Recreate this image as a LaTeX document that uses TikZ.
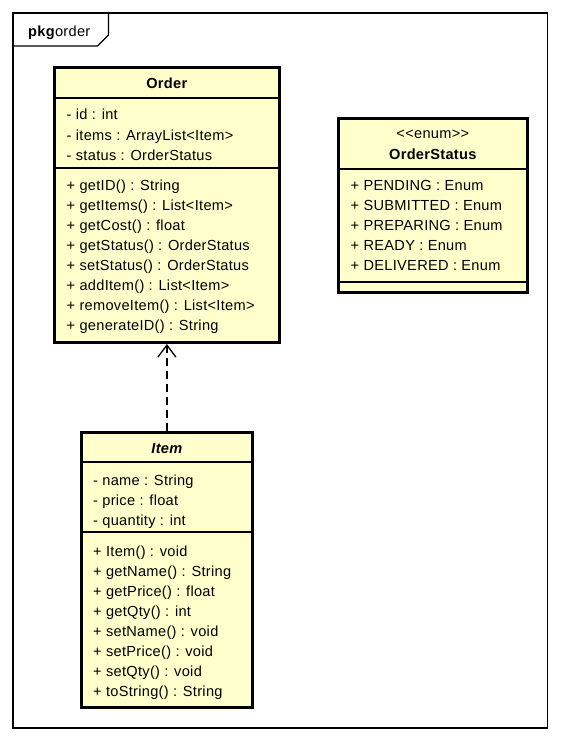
\documentclass[tikz,border=0pt]{standalone}
\usepackage{fontspec}
\setmainfont[LetterSpace=2]{Liberation Sans}
\usetikzlibrary{arrows.meta}
\definecolor{classfill}{RGB}{255,255,204}
\begin{document}
\begin{tikzpicture}[x=1pt, y=-1pt, font=\fontsize{14.6}{17}\selectfont, >={Straight Barb[length=12pt,width=18pt]},
	classbox/.style={draw, line width=3pt, fill=classfill, inner sep=0pt},
	frame/.style={line width=1.3pt},
	sepline/.style={line width=1.2pt},
	member/.style={anchor=base west, inner sep=0pt},
	ctitle/.style={anchor=base, inner sep=0pt, font=\fontsize{14.6}{17}\selectfont\bfseries}]
	\useasboundingbox (0,0) rectangle (560,741);
	% package frame
	\draw[frame] (13,13) rectangle (547.5,728);
	\draw[frame] (13,46) -- (97.5,46) -- (108.5,35) -- (108.5,13);
	\node[member] (pkg) at (28,37) {\textbf{pkg}order};
	
	% Order
	\node[classbox, minimum width=225.5pt, minimum height=275pt] (order) at (166.75,205) {};
	\draw[sepline] (54,98) -- (279.5,98) (54,168) -- (279.5,168);
	\node[ctitle] (ordername) at (166.75,89) {Order};
	\foreach \t [count=\i] in {- id : int, - items : ArrayList<Item>, - status : OrderStatus}
		\node[member] (oa\i) at (66.5,100+20*\i) {\t};
	\foreach \t [count=\i] in {+ getID() : String, + getItems() : List<Item>, + getCost() : float,
		+ getStatus() : OrderStatus, + setStatus() : OrderStatus, + addItem() : List<Item>,
		+ removeItem() : List<Item>, + generateID() : String}
		\node[member] (om\i) at (66.5,170+20*\i) {\t};
	
	% OrderStatus
	\node[classbox, minimum width=189pt, minimum height=174.4pt] (status) at (432.8,205.5) {};
	\draw[sepline] (338.3,169) -- (527.3,169) (338.3,282) -- (527.3,282);
	\node[anchor=base, inner sep=0pt] (stereo) at (432.8,138.5) {{<}{<}enum{>}{>}};
	\node[ctitle] (statusname) at (432.8,159.5) {OrderStatus};
	\foreach \t [count=\i] in {+ PENDING : Enum, + SUBMITTED : Enum, + PREPARING : Enum,
		+ READY : Enum, + DELIVERED : Enum}
		\node[member] (sa\i) at (350.5,170.5+20*\i) {\t};
	
	% Item
	\node[classbox, minimum width=170.8pt, minimum height=274.6pt] (item) at (166.9,570) {};
	\draw[sepline] (81.5,462) -- (252.3,462) (81.5,532) -- (252.3,532);
	\node[ctitle, font=\fontsize{14.6}{17}\selectfont\bfseries\itshape] (itemname) at (166.9,453.3) {Item};
	\foreach \t [count=\i] in {- name : String, - price : float, - quantity : int}
		\node[member] (ia\i) at (93,465+20*\i) {\t};
	\foreach \t [count=\i] in {+ Item() : void, + getName() : String, + getPrice() : float,
		+ getQty() : int, + setName() : void, + setPrice() : void, + setQty() : void,
		+ toString() : String}
		\node[member] (im\i) at (93,536+20*\i) {\t};
	
	\draw[->, line width=1.3pt, dash pattern=on 8pt off 5pt] (item.north) -- (item.north |- order.south);
\end{tikzpicture}
\end{document}
